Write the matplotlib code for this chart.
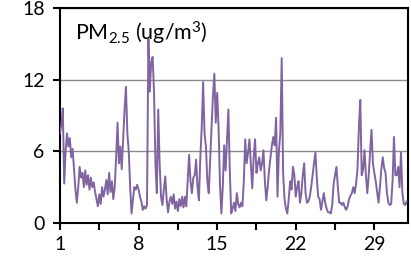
import numpy as np
import matplotlib
matplotlib.use("Agg")
import matplotlib.pyplot as plt
from matplotlib.ticker import FixedLocator

# PM2.5 concentration, 3-hourly values (8 per day), days 1..31
pm25_by_day = [
    [7.5, 8.2, 9.6, 3.3, 6.0, 7.5, 6.4, 7.1],
    [5.5, 6.2, 4.5, 2.8, 1.7, 3.0, 4.7, 3.8],
    [4.2, 3.0, 4.4, 3.2, 4.0, 2.8, 3.8, 3.0],
    [3.4, 2.6, 2.0, 1.4, 2.4, 1.6, 3.0, 2.2],
    [2.8, 3.6, 2.4, 4.2, 2.6, 3.5, 2.0, 3.0],
    [5.5, 8.4, 5.0, 6.4, 4.5, 7.0, 9.5, 11.4],
    [7.5, 6.0, 3.0, 0.8, 2.0, 3.0, 2.8, 3.2],
    [2.8, 2.2, 1.8, 1.1, 1.4, 1.2, 1.5, 15.4],
    [11.0, 13.5, 13.9, 11.0, 5.0, 2.5, 9.5, 5.0],
    [2.2, 1.5, 2.8, 3.9, 2.0, 0.9, 1.8, 2.2],
    [1.6, 2.4, 1.2, 1.8, 1.0, 2.0, 1.4, 2.2],
    [1.3, 2.2, 1.4, 3.5, 5.7, 3.5, 2.5, 3.8],
    [4.0, 5.3, 3.0, 1.9, 5.5, 8.0, 11.8, 7.5],
    [6.4, 3.5, 2.5, 5.3, 8.0, 10.6, 12.5, 8.4],
    [10.9, 8.0, 3.3, 0.8, 3.0, 6.5, 4.4, 7.0],
    [9.5, 4.4, 0.8, 1.2, 1.7, 1.0, 2.5, 1.6],
    [1.3, 1.7, 1.4, 3.5, 7.0, 5.0, 5.9, 7.0],
    [5.0, 2.9, 5.5, 7.0, 4.2, 5.0, 5.5, 4.4],
    [5.0, 6.1, 3.5, 1.9, 3.0, 4.4, 5.5, 6.5],
    [7.2, 6.5, 8.8, 2.2, 6.0, 7.5, 13.8, 4.2],
    [2.0, 1.2, 0.8, 2.0, 3.5, 2.8, 4.7, 4.0],
    [2.2, 3.0, 3.5, 1.7, 2.5, 4.0, 5.0, 2.5],
    [1.7, 1.8, 2.2, 3.0, 4.0, 5.0, 5.9, 3.8],
    [2.2, 2.0, 1.1, 1.8, 2.5, 1.7, 1.2, 0.9],
    [0.9, 0.8, 1.5, 3.3, 4.0, 4.7, 3.0, 1.7],
    [1.7, 1.5, 1.7, 1.3, 1.1, 1.4, 2.0, 2.3],
    [2.5, 3.0, 2.5, 3.3, 4.5, 8.0, 10.3, 4.0],
    [4.5, 6.1, 4.0, 2.5, 4.0, 6.0, 7.8, 5.0],
    [4.2, 3.5, 2.6, 1.7, 3.0, 4.5, 5.5, 4.6],
    [4.2, 2.5, 1.7, 1.5, 1.6, 3.5, 7.2, 4.0],
    [4.0, 4.7, 3.0, 5.9, 2.5, 1.6, 1.5, 1.8],
]
samples_per_day = 8
x_ticks = [1, 8, 15, 22, 29]
x_minor = [4.5, 11.5, 18.5, 25.5]
y_ticks = [0, 6, 12, 18]

pm25 = np.array(pm25_by_day).ravel()
days = 1 + np.arange(len(pm25)) / samples_per_day

plt.rcParams['font.family'] = ['Lato', 'DejaVu Sans']
plt.rcParams['mathtext.fontset'] = 'custom'
plt.rcParams['mathtext.rm'] = 'Lato'
plt.rcParams['mathtext.it'] = 'Lato:italic'

fig = plt.figure(figsize=(4.11, 2.66), dpi=100)
ax = fig.add_axes([60 / 411, 43 / 266, 348 / 411, 215 / 266])

ax.plot(days, pm25, color='#8064A2', lw=1.4, zorder=3)

ax.set_xlim(1, 32)
ax.set_ylim(0, 18)
ax.xaxis.set_major_locator(FixedLocator(x_ticks))
ax.xaxis.set_minor_locator(FixedLocator(x_minor))
ax.yaxis.set_major_locator(FixedLocator(y_ticks))
ax.grid(axis='y', color='#8c8c8c', lw=1.0, zorder=1)

for s in ax.spines.values():
    s.set_linewidth(1.5)
    s.set_color('black')

ax.tick_params(axis='both', which='both', direction='out', length=5, width=1.5,
               labelsize=14, colors='black')
ax.tick_params(axis='y', pad=6)
ax.tick_params(axis='x', pad=4)

ax.text(0.042, 0.945, r'PM$_{2.5}$ (ug/m$^3$)', transform=ax.transAxes,
        fontsize=15.5, va='top', ha='left')

fig.savefig('out.png', dpi=100)
